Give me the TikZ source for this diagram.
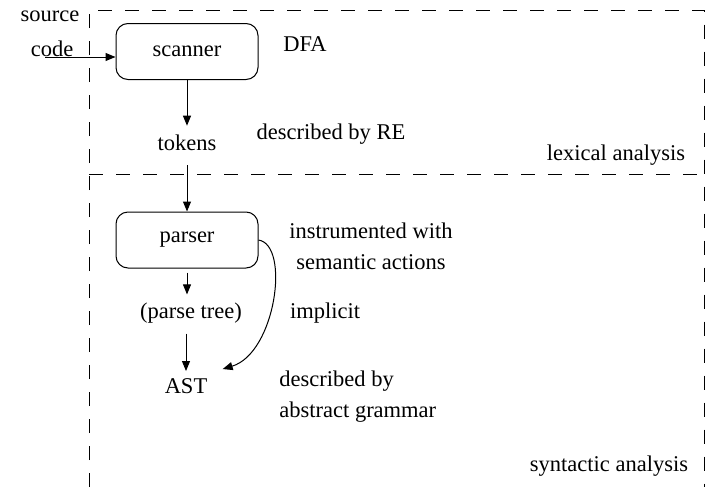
\documentclass[tikz,border=0pt]{standalone}
\usepackage{fontspec}
\setmainfont{Liberation Serif}
\usetikzlibrary{arrows.meta,calc}
\begin{document}
\begin{tikzpicture}[x=0.5pt,y=-0.5pt,
  font=\fontsize{11.25}{15.5}\selectfont,
  box/.style={draw,rounded corners=6pt,minimum width=71pt,minimum height=28pt,line width=0.5pt},
  lbl/.style={inner sep=0pt},
  conn/.style={line width=0.5pt,-{Triangle[length=5pt,width=4pt]}},
  region/.style={line width=0.5pt,dash pattern=on 7pt off 6.5pt}]
\useasboundingbox (0,0) rectangle (706,487);
% regions
\coordinate (rtl) at (89,10);
\coordinate (rtr) at (704.5,10);
\coordinate (rbl) at (89,487);
\coordinate (rbr) at (704.5,487);
\coordinate (rml) at (89,174);
\coordinate (rmr) at (704.5,174);
\draw[region] (rbl) -- (rtl) -- (rtr) -- (rbr);
\draw[region] (rml) -- (rmr);
% nodes
\node[box] (scanner) at (187,51.5) {scanner};
\node[box] (parser) at (187,240) {parser};
\node[lbl] (source) at (50,16) {source};
\node[lbl] (code) at (52,49) {code};
\node[lbl] (dfa) at (305,44) {DFA};
\node[lbl] (tokens) at (187,143) {tokens};
\node[lbl] (descre) at (331,134) {described by RE};
\node[lbl] (lex) at (616,155) {lexical analysis};
\node[lbl,align=center] (instr) at (371,246) {instrumented with\\semantic actions};
\node[lbl] (ptree) at (191,313) {(parse tree)};
\node[lbl] (implicit) at (325,313) {implicit};
\node[lbl] (ast) at (186,386) {AST};
\node[lbl,align=left,anchor=west] (descag) at (279,397) {described by\\abstract grammar};
\node[lbl] (syn) at (609,466) {syntactic analysis};
% connectors
\coordinate (src) at (45,57);
\draw[conn] (src) -- (src -| scanner.west);
\draw[conn,shorten >=4.5pt] (scanner.south) -- (tokens.north);
\draw[conn,shorten <=7pt] (tokens.south) -- (parser.north);
\draw[conn,shorten <=2pt,shorten >=4pt] (parser.south) -- (parser.south |- ptree.north);
\draw[conn,shorten <=5pt,shorten >=3.5pt] (ast.north |- ptree.south) -- (ast.north);
\draw[conn] (parser.east) .. controls ($(parser.east)+(32,5)$) and ($(ast.north east)+(68,-25)$) .. ($(ast.north east)+(15,-9)$);
\end{tikzpicture}
\end{document}
